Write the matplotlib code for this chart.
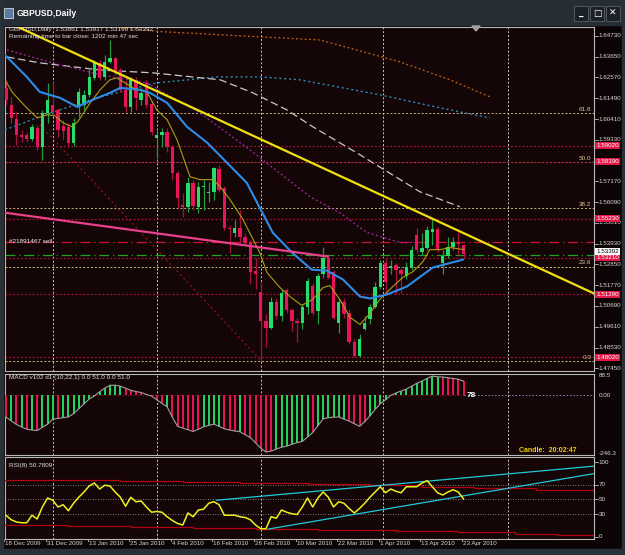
import matplotlib
matplotlib.use('Agg')
import matplotlib.pyplot as plt
from matplotlib.patches import Rectangle, Polygon

plt.rcParams['font.family'] = ['Liberation Sans', 'DejaVu Sans']

W, H = 625, 555
BG = '#140606'

# ---------------- data ----------------
date_labels = ['18 Dec 2009', '31 Dec 2009', '13 Jan 2010', '25 Jan 2010', '4 Feb 2010', '16 Feb 2010',
               '26 Feb 2010', '10 Mar 2010', '22 Mar 2010', '1 Apr 2010', '13 Apr 2010', '23 Apr 2010']
date_bars = [0, 8, 16, 24, 32, 40, 48, 56, 64, 72, 80, 88]
month_grid = [9, 29, 49, 72.5, 96.5]

opens = [1.6203, 1.6115, 1.6042, 1.5959, 1.5959, 1.5938, 1.5995, 1.5897, 1.6073, 1.6115,
         1.6089, 1.6006, 1.6001, 1.5918, 1.6104, 1.6115, 1.6167, 1.6255, 1.6333, 1.6260,
         1.6338, 1.6359, 1.6296, 1.6193, 1.6104, 1.6245, 1.6141, 1.6229, 1.6120, 1.5944,
         1.5959, 1.5975, 1.5897, 1.5762, 1.5596, 1.5585, 1.5710, 1.5585, 1.5689, 1.5658,
         1.5663, 1.5783, 1.5684, 1.5476, 1.5451, 1.5476, 1.5430, 1.5404, 1.5253, 1.5144,
         1.4989, 1.4957, 1.5092, 1.5015, 1.5150, 1.5046, 1.4989, 1.4978, 1.5066, 1.5175,
         1.5041, 1.5233, 1.5321, 1.5248, 1.4983, 1.5092, 1.5030, 1.4880, 1.4807, 1.4947,
         1.4999, 1.5066, 1.5170, 1.5295, 1.5264, 1.5284, 1.5258, 1.5227, 1.5274, 1.5440,
         1.5352, 1.5373, 1.5456, 1.5471, 1.5290, 1.5331, 1.5378, 1.5404, 1.53861]
highs = [1.6245, 1.6156, 1.6079, 1.5985, 1.5975, 1.6016, 1.6011, 1.6089, 1.6229, 1.6234,
         1.6099, 1.6037, 1.6021, 1.6047, 1.6203, 1.6193, 1.6312, 1.6348, 1.6348, 1.6374,
         1.6452, 1.6364, 1.6307, 1.6245, 1.6260, 1.6260, 1.6203, 1.6245, 1.6130, 1.5985,
         1.5995, 1.5995, 1.5907, 1.5772, 1.5658, 1.5741, 1.5726, 1.5715, 1.5726, 1.5715,
         1.5793, 1.5803, 1.5694, 1.5492, 1.5518, 1.5570, 1.5451, 1.5414, 1.5321, 1.5196,
         1.5025, 1.5118, 1.5113, 1.5155, 1.5165, 1.5061, 1.5009, 1.5077, 1.5217, 1.5191,
         1.5243, 1.5378, 1.5336, 1.5258, 1.5103, 1.5113, 1.5051, 1.4895, 1.4921, 1.5015,
         1.5077, 1.5196, 1.5310, 1.5316, 1.5310, 1.5295, 1.5269, 1.5300, 1.5383, 1.5476,
         1.5451, 1.5487, 1.5523, 1.5482, 1.5362, 1.5430, 1.5430, 1.5456, 1.53917]
lows = [1.6115, 1.6021, 1.5907, 1.5923, 1.5923, 1.5928, 1.5881, 1.5829, 1.6021, 1.6063,
        1.5949, 1.5933, 1.5897, 1.5902, 1.6053, 1.6089, 1.6156, 1.6245, 1.6245, 1.6245,
        1.6333, 1.6271, 1.6182, 1.6079, 1.6079, 1.6089, 1.6115, 1.6099, 1.5959, 1.5840,
        1.5897, 1.5871, 1.5726, 1.5580, 1.5534, 1.5560, 1.5570, 1.5554, 1.5570, 1.5611,
        1.5622, 1.5663, 1.5466, 1.5347, 1.5430, 1.5399, 1.5388, 1.5181, 1.5155, 1.4781,
        1.4854, 1.4947, 1.4999, 1.4989, 1.5030, 1.4937, 1.4880, 1.4947, 1.5025, 1.5020,
        1.4973, 1.5217, 1.5207, 1.4999, 1.4926, 1.5009, 1.4869, 1.4802, 1.4802, 1.4942,
        1.4973, 1.5061, 1.5155, 1.5129, 1.5233, 1.5129, 1.5139, 1.5207, 1.5258, 1.5347,
        1.5336, 1.5362, 1.5388, 1.5352, 1.5233, 1.5321, 1.5362, 1.5336, 1.53190]
closes = [1.6141, 1.6047, 1.5959, 1.5949, 1.5938, 1.6001, 1.5897, 1.6073, 1.6141, 1.6079,
          1.5985, 1.5980, 1.5918, 1.6021, 1.6182, 1.6167, 1.6260, 1.6333, 1.6255, 1.6338,
          1.6359, 1.6286, 1.6193, 1.6104, 1.6245, 1.6151, 1.6177, 1.6115, 1.5975, 1.5959,
          1.5975, 1.5897, 1.5762, 1.5632, 1.5585, 1.5710, 1.5591, 1.5689, 1.5694, 1.5663,
          1.5788, 1.5674, 1.5476, 1.5471, 1.5476, 1.5430, 1.5399, 1.5248, 1.5233, 1.4989,
          1.4957, 1.5092, 1.5015, 1.5134, 1.5046, 1.4989, 1.4978, 1.5066, 1.5201, 1.5035,
          1.5227, 1.5321, 1.5217, 1.5009, 1.5092, 1.5025, 1.4880, 1.4807, 1.4895, 1.4978,
          1.5066, 1.5170, 1.5295, 1.5196, 1.5279, 1.5258, 1.5233, 1.5274, 1.5362, 1.5362,
          1.5373, 1.5466, 1.5471, 1.5362, 1.5331, 1.5378, 1.5404, 1.5393, 1.53392]

# moving averages / drawn lines, as (bar, price) vertices
blue_ma_x = [-0.2, 4, 6.5, 10.4, 13.7, 16.7, 20, 22, 25.8, 27.7, 31, 34.8, 38.7, 42.5, 46.3, 48,
             51.3, 55, 58.8, 61.7, 64.8, 68.1, 70, 73.3, 77.1, 82.1, 87.9]
blue_ma_y = [1.6374, 1.6260, 1.6182, 1.6151, 1.6104, 1.6141, 1.6177, 1.6203, 1.6193, 1.6177, 1.6125,
             1.6001, 1.5918, 1.5814, 1.5710, 1.5622, 1.5451, 1.5347, 1.5258, 1.5253, 1.5207, 1.5118,
             1.5108, 1.5129, 1.5170, 1.5269, 1.5310]
olive_ma_x = [-0.2, 1.3, 4, 6, 7.9, 9.4, 11, 12.7, 13.8, 16.2, 18.1, 20, 21.3, 22.9, 24.4, 27.1, 29,
              31, 32.9, 35.4, 37.3, 39.8, 41.2, 43.1, 45.6, 48.8, 50.2, 52.7, 54.6, 56.9, 59, 61,
              62.3, 64.2, 66.2, 68.1, 70, 71.9, 74.4, 76.3, 78.3, 80.2, 81.5, 83.5, 85.4, 88.1]
olive_ma_y = [1.6245, 1.6177, 1.6099, 1.6047, 1.6063, 1.6058, 1.6021, 1.6001, 1.6027, 1.6125, 1.6193,
              1.6245, 1.6255, 1.6229, 1.6203, 1.6182, 1.6089, 1.6037, 1.5933, 1.5741, 1.5726, 1.5726,
              1.5689, 1.5622, 1.5518, 1.5347, 1.5243, 1.5165, 1.5118, 1.5072, 1.5103, 1.5165, 1.5175,
              1.5103, 1.5009, 1.4973, 1.5030, 1.5103, 1.5170, 1.5217, 1.5248, 1.5300, 1.5362, 1.5362,
              1.5373, 1.5362]
gray_ma_x = [0.2, 6.5, 18.1, 28.3, 41.2, 47.5, 54, 59, 68.1, 79.6, 87.3]
gray_ma_y = [1.6364, 1.6333, 1.6296, 1.6281, 1.6245, 1.6177, 1.6089, 1.6001, 1.5855, 1.5663, 1.5585]
teal_ma_x = [-0.2, 8.5, 18.1, 29, 40.6, 48.8, 56.5, 71.9, 83.5, 93.1]
teal_ma_y = [1.5985, 1.6073, 1.6156, 1.6229, 1.6260, 1.6260, 1.6245, 1.6167, 1.6099, 1.6047]
purple_ma_x = [0.2, 9, 18.1, 27.1, 37.3, 46.9, 58.5, 64.2, 69.4, 75.8, 78.3]
purple_ma_y = [1.6400, 1.6333, 1.6271, 1.6229, 1.6073, 1.5881, 1.5637, 1.5554, 1.5451, 1.5399, 1.5399]
orange_ma_x = [18.0, 30.0, 60.4, 75.8, 85.4, 93.1]
orange_ma_y = [1.6525, 1.6495, 1.6452, 1.6338, 1.6245, 1.6156]

trend_yellow = ([2.3, 113.1], [1.6520, 1.5134])
trend_pink = ([-0.2, 61.9], [1.5554, 1.5326])
trend_darkred = ([6.5, 49.2], [1.6011, 1.4781])

fib_levels = ['61.8', '50.0', '38.2', '23.6', '0.0']
fib_prices = [1.6073, 1.5819, 1.5580, 1.5274, 1.4781]
red_levels = [1.5902, 1.5819, 1.5523, 1.5321, 1.5129, 1.4802]
order_sell = 1.5404
order_green = 1.5336
bid_label_price = 1.5352
price_ticks = [1.64730, 1.63650, 1.62570, 1.61490, 1.60410, 1.59330, 1.57170, 1.56090,
               1.55010, 1.53930, 1.52850, 1.51770, 1.50690, 1.49610, 1.48530, 1.47450]

macd = [-89, -105, -120, -130, -140, -143, -145, -132, -119, -98,
        -95, -92, -89, -75, -55, -35, -15, -2, 15, 30,
        42, 42, 38, 30, 21, 16, 12, 4, -3, -18,
        -33, -47, -90, -128, -135, -142, -149, -140, -130, -124,
        -119, -128, -138, -143, -147, -150, -162, -174, -196, -218,
        -234, -230, -222, -214, -210, -202, -195, -190, -172, -153,
        -125, -97, -92, -90, -89, -98, -106, -117, -128, -108,
        -85, -58, -34, -18, 0, 10, 18, 26, 38, 50,
        59, 70, 80, 77, 76, 73, 70, 67, 59]
macd_colors = ('rgrgrgrgg' 'grgggggggggggg'
               'rrrrrrrrgrrrrrr'
               'ggggrrrgrrrrrr'
               'gggggggrggggggrrrr'
               'ggggggggggggggrrrrrr')

rsi = [29, 23, 20, 19, 19, 29, 24, 40, 52, 49,
       40, 43, 35, 45, 53, 60, 68, 72, 64, 69,
       68, 60, 53, 41, 53, 47, 48, 40, 33, 34,
       33, 27, 22, 18, 16, 32, 27, 36, 37, 45,
       47, 43, 29, 29, 29, 27, 26, 23, 16, 11,
       11, 27, 25, 36, 33, 31, 30, 40, 52, 40,
       52, 60, 53, 40, 47, 45, 38, 32, 38, 45,
       53, 60, 67, 59, 64, 61, 59, 67, 67, 67,
       72, 75, 67, 59, 56, 60, 63, 60, 50.78]
rsi_cyan1 = ([40.5, 113.1], [49.0, 94.5])
rsi_cyan2 = ([50.4, 113.1], [10.5, 84.5])
rsi_red_hi_x = [-0.2, 10, 22, 34, 45, 58, 70, 80, 90, 102, 113.1]
rsi_red_hi_y = [76.5, 75.8, 74.8, 73.6, 72.2, 70.6, 69.0, 67.0, 64.8, 62.4, 60.0]
rsi_red_lo_x = [-0.2, 12, 24, 36, 48, 60, 75, 87, 98, 106, 113.1]
rsi_red_lo_y = [16.0, 14.6, 13.2, 11.8, 10.5, 9.2, 8.0, 6.2, 4.5, 2.8, 1.5]


# ---------------- helpers ----------------
def fx(px):
    return px / W


def fy(py):
    return 1 - py / H


def panel(x0, y0, x1, y1):
    ax = fig.add_axes([fx(x0), fy(y1), fx(x1 - x0), (y1 - y0) / H])
    ax.set_facecolor(BG)
    ax.set_xticks([])
    ax.set_yticks([])
    for s in ax.spines.values():
        s.set_color('#b8b8b8')
        s.set_linewidth(0.8)
    ax.set_xlim(-0.19, 113.1)
    for g in month_grid:
        ax.axvline(g, color='#c8c8c8', lw=0.7, ls=(0, (2, 2)), zorder=1)
    return ax


fig = plt.figure(figsize=(W / 100, H / 100), dpi=100, facecolor='#0c0404')

# window chrome
fig.patches.append(Rectangle((0, fy(25)), 1, 25 / H, transform=fig.transFigure, color='#272d35', zorder=0))
fig.patches.append(Rectangle((0, 0), fx(3), 1, transform=fig.transFigure, color='#2a3038', zorder=0))
fig.patches.append(Rectangle((fx(622), 0), fx(3), 1, transform=fig.transFigure, color='#2a3038', zorder=0))
fig.patches.append(Rectangle((0, 0), 1, 6 / H, transform=fig.transFigure, color='#2a3038', zorder=0))
fig.patches.append(Rectangle((fx(4), fy(18)), fx(9), 10 / H, transform=fig.transFigure,
                             facecolor='#5a7aa0', edgecolor='#d0d8e0', lw=0.6))
fig.text(fx(17), fy(13), 'GBPUSD,Daily', color='white', fontsize=6.2, fontweight='bold', va='center')
for bx, sym in [(574, '_'), (590, '□'), (606, '✕')]:
    fig.patches.append(Rectangle((fx(bx), fy(21)), fx(14), 15 / H, transform=fig.transFigure,
                                 facecolor='#1c2128', edgecolor='#5a6068', lw=0.6))
    fig.text(fx(bx + 7), fy(13.5), sym, color='white', fontsize=6.5, fontweight='bold',
             ha='center', va='center', family='DejaVu Sans')

# ---------------- main price panel ----------------
ax = panel(5, 27, 594, 371)
ax.set_ylim(1.47310, 1.65195)

for lvl, p in zip(fib_levels, fib_prices):
    ax.axhline(p, color='#c8b880', lw=0.7, ls=(0, (2, 2)), zorder=2)
    ax.text(112.6, p + 0.0006, lvl, color='#d8c898', fontsize=4.6, ha='right', va='bottom')
for p in red_levels:
    ax.axhline(p, color='#c01038', lw=0.8, ls=(0, (1.5, 2)), zorder=2)
ax.axhline(order_sell, color='#d01030', lw=0.9, ls=(0, (8, 3, 1, 3)), zorder=2)
ax.axhline(order_green, color='#20a020', lw=0.9, ls=(0, (8, 3, 1, 3)), zorder=2)
ax.text(0.5, order_sell, '#21891467 sell', color='#f0f0f0', fontsize=4.6, va='center')

ax.plot(orange_ma_x, orange_ma_y, color='#c86414', lw=0.9, ls=(0, (1.5, 2)), zorder=3)
ax.plot(teal_ma_x, teal_ma_y, color='#2a8ab8', lw=1.0, ls=(0, (1.5, 2)), zorder=3)
ax.plot(gray_ma_x, gray_ma_y, color='#c8c8c8', lw=0.9, ls=(0, (6, 3)), zorder=3)
ax.plot(purple_ma_x, purple_ma_y, color='#a828a8', lw=0.9, ls=(0, (1.5, 2)), zorder=3)
ax.plot(*trend_darkred, color='#9a1020', lw=0.9, ls=(0, (1.5, 2.5)), zorder=3)

for i, (o, h, l, c) in enumerate(zip(opens, highs, lows, closes)):
    up = c >= o
    ax.vlines(i, l, h, color='#1e9a40' if up else '#a81040', lw=0.9, zorder=4)
    lo, hi = min(o, c), max(o, c)
    ax.add_patch(Rectangle((i - 0.32, lo), 0.64, max(hi - lo, 0.00025),
                           facecolor='#26dc6a' if up else '#e8145a', edgecolor='none', zorder=5))

ax.plot(olive_ma_x, olive_ma_y, color='#a8a010', lw=0.8, zorder=6)
ax.plot(blue_ma_x, blue_ma_y, color='#2c8ce8', lw=1.5, zorder=6)
ax.plot(*trend_pink, color='#e8408c', lw=1.6, zorder=6)
ax.plot(*trend_yellow, color='#f0e010', lw=1.6, zorder=7)

tr = ax.get_yaxis_transform()
for p in price_ticks:
    ax.plot([1.0, 1.006], [p, p], transform=tr, color='#b8b8b8', lw=0.6, clip_on=False)
    ax.text(1.0075, p, '%.5f' % p, transform=tr, color='#d8d8d8', fontsize=4.5, va='center', clip_on=False)
for p in red_levels:
    ax.text(1.0035, p, '%.5f' % p, transform=tr, color='white', fontsize=4.5, va='center', clip_on=False,
            bbox=dict(boxstyle='square,pad=0.15', facecolor='#e01848', edgecolor='none'))
ax.text(1.0035, bid_label_price, '%.5f' % closes[-1], transform=tr, color='black', fontsize=4.5,
        va='center', clip_on=False, bbox=dict(boxstyle='square,pad=0.15', facecolor='white', edgecolor='none'))

ax.text(0.5, 1.6505, 'GBPUSD,Daily  %.5f %.5f %.5f %.5f' % (opens[-1], highs[-1], lows[-1], closes[-1]),
        color='#e0e0e0', fontsize=4.6, va='center', zorder=8)
ax.text(0.5, 1.6468, 'Remaining time to bar close: 1202 min 47 sec', color='#e0e0e0', fontsize=4.6,
        va='center', zorder=8)
fig.patches.append(Polygon([[fx(472), fy(26)], [fx(480), fy(26)], [fx(476), fy(31)]], closed=True,
                           transform=fig.transFigure, color='#a0a0a0', zorder=9))

# ---------------- MACD panel ----------------
axm = panel(5, 374, 594, 455)
axm.set_ylim(-246.3, 88.5)
bars = list(range(len(macd)))
for i, v in enumerate(macd):
    axm.vlines(i, 0, v, color='#22d860' if macd_colors[i] == 'g' else '#e8145a', lw=1.4, zorder=3)
axm.plot(bars, macd, color='#a0a0a0', lw=0.8, zorder=4)
axm.plot([-0.2, 88], [0, 0], color='#d01040', lw=0.6, ls=(0, (1, 2)), zorder=2)
axm.plot([88, 113.1], [0, 0], color='#8090b0', lw=0.7, ls=(0, (1.5, 2)), zorder=2)
axm.text(88.6, -2, '78', color='white', fontsize=6, fontweight='bold', va='center')
axm.text(0.5, 72, 'MACD v102 d1 (10,22,1) 0.0 51.0 0.0 51.0', color='#e0e0e0', fontsize=4.6, va='center')
axm.text(98.7, -228, 'Candle:  20:02:47', color='#f0d000', fontsize=5, fontweight='bold', va='center')
trm = axm.get_yaxis_transform()
for v, s in [(84, '88.5'), (0, '0.00'), (-240, '-246.3')]:
    axm.text(1.0075, v, s, transform=trm, color='#d8d8d8', fontsize=4.5, va='center', clip_on=False)

# ---------------- RSI panel ----------------
axr = panel(5, 457, 594, 539)
axr.set_ylim(-2.7, 106.7)
for lv in [70, 50, 30]:
    axr.axhline(lv, color='#a0a0a0', lw=0.6, ls=(0, (1, 2)), zorder=2)
axr.plot(rsi_red_hi_x, rsi_red_hi_y, color='#b00010', lw=0.9, drawstyle='steps-post', zorder=3)
axr.plot(rsi_red_lo_x, rsi_red_lo_y, color='#b00010', lw=0.9, drawstyle='steps-post', zorder=3)
axr.plot(*rsi_cyan1, color='#20c8d8', lw=0.9, zorder=4)
axr.plot(*rsi_cyan2, color='#20c8d8', lw=0.9, zorder=4)
axr.plot(bars, rsi, color='#f0f020', lw=1.1, zorder=5)
axr.text(0.5, 96, 'RSI(8) %.4f' % 50.7809, color='#e0e0e0', fontsize=4.6, va='center')
trr = axr.get_yaxis_transform()
for v in [100, 70, 50, 30, 0]:
    axr.plot([1.0, 1.006], [v, v], transform=trr, color='#b8b8b8', lw=0.6, clip_on=False)
    axr.text(1.0075, v, str(v), transform=trr, color='#d8d8d8', fontsize=4.5, va='center', clip_on=False)

trx = axr.get_xaxis_transform()
for b, lab in zip(date_bars, date_labels):
    axr.plot([b - 0.3, b - 0.3], [0, -0.03], transform=trx, color='#b8b8b8', lw=0.6, clip_on=False)
    axr.text(b - 0.1, -0.03, lab, transform=trx, color='#d8d8d8', fontsize=4.5, va='top', clip_on=False)

fig.savefig('out.png', dpi=100, facecolor=fig.get_facecolor())
